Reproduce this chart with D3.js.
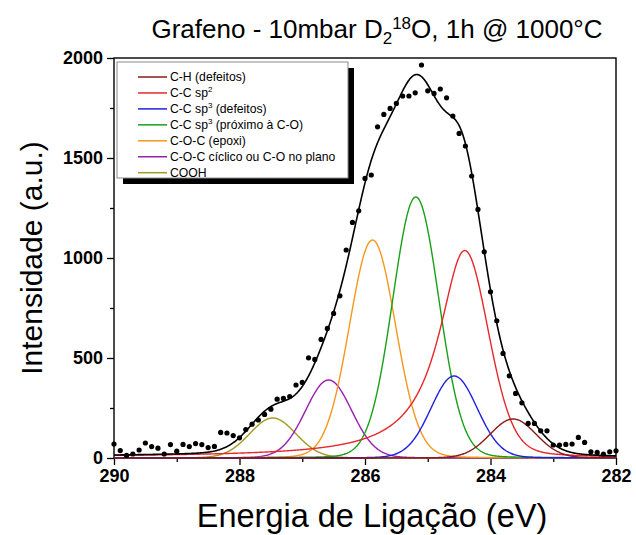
<!DOCTYPE html>
<html>
<head>
<meta charset="utf-8">
<script src="https://cdn.jsdelivr.net/npm/d3@7"></script>
<style>
  body { margin: 0; background: #fff; }
  svg { display: block; font-family: Arial, "Liberation Sans", sans-serif; }
</style>
</head>
<body>
<svg id="chart" width="636" height="535"></svg>
<script>
// C 1s spectrum: binding energy (eV) and measured intensity (a.u.)
const energy = [
  290.0, 289.9, 289.8, 289.7, 289.6, 289.5, 289.4, 289.3, 289.2, 289.1,
  289.0, 288.9, 288.8, 288.7, 288.6, 288.5, 288.4, 288.3, 288.2, 288.1,
  288.0, 287.9, 287.8, 287.7, 287.6, 287.5, 287.4, 287.3, 287.2, 287.1,
  287.0, 286.9, 286.8, 286.7, 286.6, 286.5, 286.4, 286.3, 286.2, 286.1,
  286.0, 285.9, 285.8, 285.7, 285.6, 285.5, 285.4, 285.3, 285.2, 285.1,
  285.0, 284.9, 284.8, 284.7, 284.6, 284.5, 284.4, 284.3, 284.2, 284.1,
  284.0, 283.9, 283.8, 283.7, 283.6, 283.5, 283.4, 283.3, 283.2, 283.1,
  283.0, 282.9, 282.8, 282.7, 282.6, 282.5, 282.4, 282.3, 282.2, 282.1,
  282.0
];
const counts = [
  70, 37, 13, 20, 40, 75, 57, 49, 20, 67,
  34, 68, 57, 72, 67, 52, 58, 128, 125, 112,
  101, 142, 169, 190, 218, 244, 294, 298, 307, 365,
  378, 501, 493, 593, 648, 723, 811, 1040, 1178, 1236,
  1398, 1415, 1656, 1718, 1748, 1773, 1810, 1810, 1826, 1965,
  1836, 1823, 1845, 1801, 1710, 1623, 1560, 1410, 1243, 1031,
  831, 686, 523, 411, 323, 276, 173, 173, 136, 136,
  65, 65, 68, 70, 103, 78, 31, 28, 20, 31,
  36
];

// Fitted components
const peakNames = [
  "C-H (defeitos)",
  "C-C sp2",
  "C-C sp3 (defeitos)",
  "C-C sp3 (próximo à C-O)",
  "C-O-C (epoxi)",
  "C-O-C cíclico ou C-O no plano",
  "COOH"
];
const peakColors = ["#8b1a1a", "#e8272a", "#2020e0", "#18a018", "#f7961e", "#9a1fb0", "#a09a1e"];
const peakCenters = [283.64, 284.41, 284.58, 285.19, 285.88, 286.58, 287.47];
const peakHeights = [195, 1035, 410, 1305, 1090, 390, 200];
const fwhmHigh    = [0.87, 1.00, 0.87, 0.87, 0.87, 0.87, 0.87];   // high binding-energy side
const fwhmLow     = [0.87, 0.90, 0.87, 0.87, 0.87, 0.87, 0.87];   // low binding-energy side
const lorentzHigh = [0.05, 1.0, 0.05, 0.05, 0.05, 0.05, 0.05];
const lorentzLow  = [0.05, 0.2, 0.05, 0.05, 0.05, 0.05, 0.05];
const tailLevel   = [0, 5, 0, 0, 0, 0, 0];

const xTicks = [290, 288, 286, 284, 282];
const xMinor = [289, 287, 285, 283];
const yTicks = [0, 500, 1000, 1500, 2000];
const yMinor = [250, 750, 1250, 1750];

const titleParts = ["Grafeno - 10mbar D", "2", "18", "O, 1h @ 1000°C"];
const xTitle = "Energia de Ligação (eV)";
const yTitle = "Intensidade (a.u.)";

// ---------------------------------------------------------------
const svg = d3.select("#chart");
const plot = { left: 114, right: 616, top: 58, bottom: 458 };

const x = d3.scaleLinear().domain([290, 282]).range([plot.left, plot.right]);
const y = d3.scaleLinear().domain([0, 2000]).range([plot.bottom, plot.top]);

// pseudo-Voigt line shape with separate widths on each side
function component(k, e) {
  const d = e - peakCenters[k];
  const hi = d >= 0;
  const w = hi ? fwhmHigh[k] : fwhmLow[k];
  const m = hi ? lorentzHigh[k] : lorentzLow[k];
  const u = d / w;
  const g = Math.exp(-4 * Math.LN2 * u * u);
  const l = 1 / (1 + 4 * u * u);
  let v = peakHeights[k] * ((1 - m) * g + m * l);
  v += tailLevel[k] * (0.5 + Math.atan(d / (w / 2)) / Math.PI);
  return v;
}

const grid = d3.range(282, 290.0001, 0.01);
const line = d3.line().x(p => x(p[0])).y(p => y(p[1]));

// axes
const gx = svg.append("g").attr("transform", `translate(0,${plot.bottom})`);
gx.call(d3.axisBottom(x).tickValues(xTicks).tickSize(7).tickPadding(4).tickFormat(d3.format("d")));
gx.append("g").call(d3.axisBottom(x).tickValues(xMinor).tickSize(4).tickFormat(""));
const gy = svg.append("g").attr("transform", `translate(${plot.left},0)`);
gy.call(d3.axisLeft(y).tickValues(yTicks).tickSize(7).tickPadding(4).tickFormat(d3.format("d")));
gy.append("g").call(d3.axisLeft(y).tickValues(yMinor).tickSize(4).tickFormat(""));
svg.selectAll(".domain").remove();
svg.selectAll(".tick line").attr("stroke", "#000").attr("stroke-width", 1.3);
svg.selectAll(".tick text")
  .attr("fill", "#000")
  .style("font-size", "18px")
  .style("font-weight", "bold")
  .style("font-family", "Arial, 'Liberation Sans', sans-serif");

// frame
svg.append("rect")
  .attr("x", plot.left).attr("y", plot.top)
  .attr("width", plot.right - plot.left).attr("height", plot.bottom - plot.top)
  .attr("fill", "none").attr("stroke", "#000").attr("stroke-width", 1.4);

// component curves
const order = [6, 5, 4, 3, 2, 1, 0];
order.forEach(k => {
  svg.append("path")
    .datum(grid.map(e => [e, component(k, e)]))
    .attr("d", line)
    .attr("fill", "none")
    .attr("stroke", peakColors[k])
    .attr("stroke-width", 1.4);
});

// envelope
svg.append("path")
  .datum(grid.map(e => [e, d3.sum(peakNames, (_, k) => component(k, e))]))
  .attr("d", line)
  .attr("fill", "none")
  .attr("stroke", "#000")
  .attr("stroke-width", 1.6);

// measured points
svg.append("g").selectAll("circle")
  .data(energy.map((e, i) => [e, counts[i]]))
  .join("circle")
  .attr("cx", p => x(p[0]))
  .attr("cy", p => y(p[1]))
  .attr("r", 2.6)
  .attr("fill", "#000");

// legend
const lg = { x: 117, y: 62, w: 231, h: 116 };
svg.append("rect")
  .attr("x", lg.x + 6).attr("y", lg.y + 6).attr("width", lg.w).attr("height", lg.h)
  .attr("fill", "#000");
svg.append("rect")
  .attr("x", lg.x).attr("y", lg.y).attr("width", lg.w).attr("height", lg.h)
  .attr("fill", "#fff").attr("stroke", "#8a8a8a").attr("stroke-width", 1);

peakNames.forEach((name, k) => {
  const cy = 77 + k * 15.95;
  svg.append("line")
    .attr("x1", 138).attr("x2", 167).attr("y1", cy).attr("y2", cy)
    .attr("stroke", peakColors[k]).attr("stroke-width", 1.5);
  const t = svg.append("text")
    .attr("x", 170).attr("y", cy + 4.3)
    .style("font-size", "12.2px").attr("fill", "#000");
  const m = name.match(/^(C-C sp)([23])(.*)$/);
  if (m) {
    t.append("tspan").text(m[1]);
    t.append("tspan").attr("dy", -5).style("font-size", "8px").text(m[2]);
    t.append("tspan").attr("dy", 5).text(m[3]);
  } else {
    t.text(name);
  }
});

// title
const title = svg.append("text")
  .attr("x", 377).attr("y", 38)
  .attr("text-anchor", "middle")
  .style("font-size", "26px").attr("fill", "#000");
title.append("tspan").text(titleParts[0]);
title.append("tspan").attr("dy", 6).style("font-size", "17px").text(titleParts[1]);
title.append("tspan").attr("dy", -15).style("font-size", "17px").text(titleParts[2]);
title.append("tspan").attr("dy", 9).text(titleParts[3]);

// axis titles
svg.append("text")
  .attr("x", 372).attr("y", 527)
  .attr("text-anchor", "middle")
  .style("font-size", "32.5px").attr("fill", "#000")
  .text(xTitle);
svg.append("text")
  .attr("transform", "translate(42,258) rotate(-90)")
  .attr("text-anchor", "middle")
  .style("font-size", "30px").attr("fill", "#000")
  .text(yTitle);
</script>
</body>
</html>
